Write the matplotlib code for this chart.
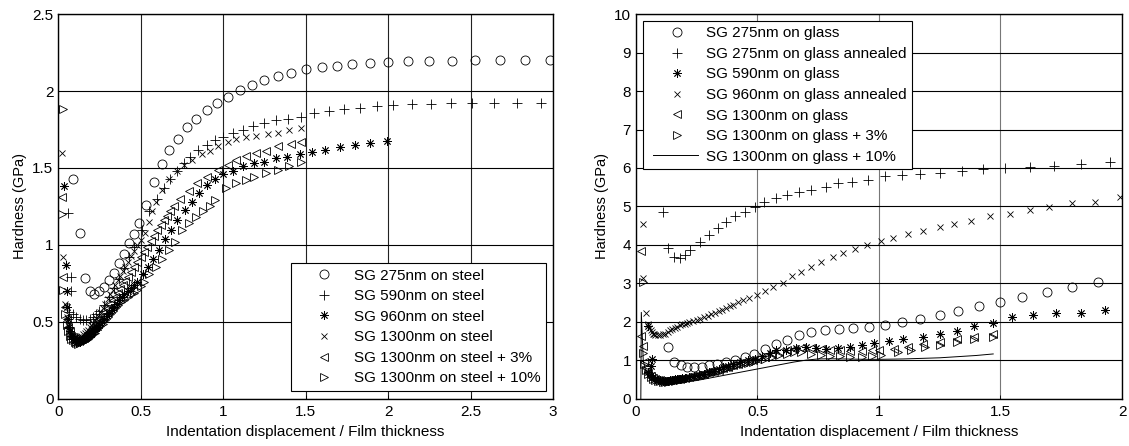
import numpy as np
import matplotlib
matplotlib.use("Agg")
import matplotlib.pyplot as plt
from matplotlib.legend_handler import HandlerLine2D
from matplotlib.lines import Line2D

plt.rcParams['font.family'] = ['Liberation Sans', 'DejaVu Sans']

# ---------------- left panel data (x = displacement / thickness, y = hardness GPa)
steel_275 = np.array([
    [0.087, 1.43], [0.13, 1.076], [0.164, 0.785], [0.19, 0.70], [0.218, 0.68], [0.25, 0.70],
    [0.28, 0.73], [0.31, 0.77], [0.34, 0.82], [0.37, 0.88], [0.40, 0.94], [0.43, 1.01],
    [0.46, 1.07], [0.49, 1.14], [0.535, 1.26], [0.578, 1.41], [0.627, 1.526], [0.671, 1.617],
    [0.728, 1.69], [0.78, 1.764], [0.837, 1.82], [0.90, 1.876], [0.964, 1.919], [1.03, 1.958],
    [1.10, 2.006], [1.174, 2.04], [1.25, 2.07], [1.33, 2.097], [1.414, 2.12], [1.505, 2.14],
    [1.60, 2.153], [1.69, 2.163], [1.78, 2.175], [1.89, 2.183], [2.0, 2.19], [2.12, 2.193],
    [2.25, 2.196], [2.39, 2.198], [2.53, 2.2], [2.68, 2.2], [2.83, 2.2], [2.98, 2.2]])

steel_590 = np.array([
    [0.057, 1.21], [0.077, 0.79], [0.08, 0.70], [0.067, 0.567], [0.09, 0.55], [0.11, 0.53],
    [0.13, 0.52], [0.15, 0.51], [0.17, 0.51], [0.19, 0.52], [0.21, 0.53], [0.23, 0.55],
    [0.25, 0.57], [0.28, 0.61], [0.31, 0.66], [0.34, 0.72], [0.37, 0.78], [0.40, 0.85],
    [0.43, 0.92], [0.46, 0.99], [0.505, 1.10], [0.55, 1.22], [0.596, 1.30], [0.64, 1.37],
    [0.68, 1.43], [0.72, 1.48], [0.76, 1.53], [0.80, 1.57], [0.85, 1.617], [0.90, 1.65],
    [0.95, 1.68], [1.0, 1.70], [1.06, 1.73], [1.12, 1.75], [1.18, 1.77], [1.25, 1.79],
    [1.32, 1.81], [1.396, 1.82], [1.475, 1.83], [1.55, 1.86], [1.64, 1.87], [1.73, 1.88],
    [1.83, 1.887], [1.93, 1.90], [2.03, 1.91], [2.145, 1.915], [2.26, 1.915], [2.38, 1.92],
    [2.51, 1.92], [2.64, 1.92], [2.78, 1.92], [2.93, 1.92]])

steel_960 = np.array([
    [0.036, 1.38], [0.047, 0.87], [0.05, 0.70], [0.055, 0.60], [0.06, 0.52], [0.065, 0.47],
    [0.07, 0.44], [0.08, 0.41], [0.09, 0.39], [0.10, 0.38], [0.11, 0.37], [0.12, 0.37],
    [0.13, 0.37], [0.14, 0.38], [0.15, 0.38], [0.16, 0.39], [0.17, 0.40], [0.18, 0.41],
    [0.19, 0.42], [0.20, 0.43], [0.21, 0.44], [0.22, 0.45], [0.23, 0.46], [0.24, 0.47],
    [0.25, 0.48], [0.265, 0.50], [0.28, 0.52], [0.295, 0.54], [0.31, 0.56], [0.325, 0.58],
    [0.34, 0.60], [0.355, 0.62], [0.37, 0.64], [0.385, 0.66], [0.40, 0.68], [0.42, 0.70],
    [0.44, 0.72], [0.46, 0.74], [0.48, 0.76], [0.515, 0.81], [0.545, 0.86], [0.576, 0.91],
    [0.61, 0.97], [0.647, 1.037], [0.683, 1.097], [0.72, 1.16], [0.77, 1.227], [0.81, 1.28],
    [0.853, 1.34], [0.905, 1.39], [0.95, 1.43], [1.0, 1.46], [1.06, 1.48], [1.12, 1.51],
    [1.19, 1.53], [1.25, 1.54], [1.32, 1.565], [1.39, 1.57], [1.465, 1.59], [1.54, 1.606],
    [1.62, 1.617], [1.71, 1.634], [1.80, 1.65], [1.89, 1.66], [1.995, 1.675]])

steel_1300 = np.array([
    [0.02, 1.6], [0.03, 0.92], [0.04, 0.62], [0.05, 0.53], [0.06, 0.48], [0.07, 0.45],
    [0.08, 0.42], [0.09, 0.41], [0.10, 0.40], [0.11, 0.40], [0.12, 0.40], [0.13, 0.405],
    [0.14, 0.41], [0.15, 0.42], [0.16, 0.43], [0.17, 0.44], [0.18, 0.45], [0.19, 0.465],
    [0.20, 0.48], [0.21, 0.495], [0.22, 0.51], [0.23, 0.525], [0.24, 0.54], [0.255, 0.565],
    [0.27, 0.59], [0.285, 0.62], [0.30, 0.65], [0.315, 0.68], [0.33, 0.71], [0.345, 0.74],
    [0.36, 0.77], [0.375, 0.80], [0.39, 0.83], [0.405, 0.86], [0.42, 0.89], [0.44, 0.93],
    [0.46, 0.96], [0.48, 1.0], [0.50, 1.03], [0.525, 1.08], [0.55, 1.15], [0.57, 1.22],
    [0.59, 1.28], [0.63, 1.36], [0.67, 1.43], [0.72, 1.48], [0.76, 1.52], [0.81, 1.55],
    [0.87, 1.59], [0.92, 1.61], [0.97, 1.64], [1.03, 1.67], [1.08, 1.69], [1.14, 1.70],
    [1.2, 1.71], [1.27, 1.72], [1.33, 1.73], [1.40, 1.75], [1.47, 1.757]])

steel_1300_3 = np.array([
    [0.022, 1.31], [0.03, 0.79], [0.04, 0.60], [0.05, 0.52], [0.06, 0.47], [0.07, 0.44],
    [0.08, 0.41], [0.09, 0.40], [0.10, 0.39], [0.11, 0.385], [0.12, 0.38], [0.13, 0.385],
    [0.14, 0.39], [0.15, 0.395], [0.16, 0.40], [0.17, 0.41], [0.18, 0.42], [0.19, 0.43],
    [0.20, 0.44], [0.21, 0.455], [0.22, 0.47], [0.23, 0.485], [0.24, 0.50], [0.255, 0.52],
    [0.27, 0.54], [0.285, 0.565], [0.30, 0.59], [0.315, 0.615], [0.33, 0.64], [0.345, 0.665],
    [0.36, 0.69], [0.375, 0.715], [0.39, 0.74], [0.405, 0.765], [0.42, 0.79], [0.44, 0.825],
    [0.46, 0.86], [0.48, 0.89], [0.50, 0.92], [0.52, 0.955], [0.54, 0.99], [0.56, 1.025],
    [0.58, 1.06], [0.60, 1.095], [0.62, 1.13], [0.64, 1.16], [0.66, 1.19], [0.68, 1.22],
    [0.70, 1.25], [0.74, 1.30], [0.79, 1.35], [0.84, 1.40], [0.90, 1.44], [0.97, 1.49],
    [1.03, 1.52], [1.08, 1.55], [1.14, 1.58], [1.2, 1.60], [1.26, 1.61], [1.33, 1.64],
    [1.41, 1.655], [1.475, 1.67]])

steel_1300_10 = np.array([
    [0.027, 1.88], [0.02, 1.20], [0.03, 0.71], [0.04, 0.55], [0.05, 0.48], [0.06, 0.44],
    [0.07, 0.41], [0.08, 0.39], [0.09, 0.38], [0.10, 0.37], [0.11, 0.365], [0.12, 0.36],
    [0.13, 0.365], [0.14, 0.37], [0.15, 0.375], [0.16, 0.38], [0.17, 0.385], [0.18, 0.39],
    [0.19, 0.40], [0.20, 0.41], [0.21, 0.42], [0.22, 0.43], [0.23, 0.445], [0.24, 0.46],
    [0.255, 0.475], [0.27, 0.49], [0.285, 0.51], [0.30, 0.53], [0.315, 0.55], [0.33, 0.57],
    [0.345, 0.59], [0.36, 0.61], [0.38, 0.63], [0.40, 0.645], [0.42, 0.66], [0.44, 0.68],
    [0.46, 0.69], [0.48, 0.71], [0.50, 0.735], [0.52, 0.76], [0.55, 0.81], [0.59, 0.86],
    [0.63, 0.91], [0.67, 0.97], [0.707, 1.02], [0.75, 1.10], [0.79, 1.14], [0.835, 1.18],
    [0.88, 1.22], [0.92, 1.25], [0.95, 1.29], [1.02, 1.37], [1.08, 1.40], [1.14, 1.42],
    [1.19, 1.44], [1.26, 1.47], [1.33, 1.49], [1.40, 1.51], [1.475, 1.54]])

left_labels = ["SG 275nm on steel", "SG 590nm on steel", "SG 960nm on steel",
               "SG 1300nm on steel", "SG 1300nm on steel + 3%", "SG 1300nm on steel + 10%"]
left_xticks = [0, 0.5, 1, 1.5, 2, 2.5, 3]
left_yticks = [0, 0.5, 1, 1.5, 2, 2.5]

# ---------------- right panel data
glass_275 = np.array([
    [0.133, 1.36], [0.156, 0.97], [0.184, 0.87], [0.21, 0.82], [0.24, 0.82], [0.27, 0.84],
    [0.30, 0.87], [0.335, 0.90], [0.37, 0.95], [0.406, 1.01], [0.447, 1.1], [0.484, 1.18],
    [0.53, 1.30], [0.576, 1.42], [0.62, 1.53], [0.67, 1.66], [0.72, 1.75], [0.777, 1.79],
    [0.836, 1.81], [0.894, 1.84], [0.96, 1.88], [1.025, 1.93], [1.093, 2.0], [1.169, 2.08],
    [1.25, 2.18], [1.326, 2.29], [1.413, 2.42], [1.50, 2.53], [1.59, 2.66], [1.69, 2.79],
    [1.795, 2.92], [1.90, 3.05]])

glass_275_ann = np.array([
    [0.11, 4.87], [0.132, 3.91], [0.155, 3.70], [0.18, 3.67], [0.20, 3.74], [0.222, 3.87],
    [0.263, 4.09], [0.30, 4.26], [0.337, 4.43], [0.371, 4.61], [0.409, 4.75], [0.447, 4.87],
    [0.49, 4.99], [0.527, 5.12], [0.576, 5.21], [0.62, 5.30], [0.67, 5.38], [0.72, 5.43],
    [0.78, 5.51], [0.83, 5.60], [0.89, 5.64], [0.955, 5.69], [1.025, 5.79], [1.095, 5.82],
    [1.17, 5.84], [1.25, 5.87], [1.34, 5.92], [1.43, 5.97], [1.52, 6.0], [1.62, 6.03],
    [1.72, 6.06], [1.83, 6.11], [1.95, 6.16]])

glass_590 = np.array([
    [0.05, 1.9], [0.068, 1.05], [0.06, 0.85], [0.05, 0.70], [0.06, 0.62], [0.07, 0.56],
    [0.08, 0.52], [0.09, 0.50], [0.10, 0.49], [0.11, 0.48], [0.12, 0.48], [0.13, 0.48],
    [0.14, 0.49], [0.15, 0.50], [0.16, 0.51], [0.17, 0.52], [0.18, 0.53], [0.19, 0.54],
    [0.20, 0.55], [0.22, 0.57], [0.24, 0.60], [0.26, 0.63], [0.28, 0.66], [0.30, 0.70],
    [0.32, 0.74], [0.34, 0.78], [0.36, 0.82], [0.38, 0.86], [0.40, 0.90], [0.43, 0.95],
    [0.46, 1.0], [0.49, 1.05], [0.52, 1.12], [0.55, 1.20], [0.576, 1.27], [0.617, 1.28],
    [0.66, 1.33], [0.70, 1.36], [0.74, 1.33], [0.78, 1.30], [0.83, 1.33], [0.88, 1.36],
    [0.93, 1.41], [0.98, 1.45], [1.04, 1.50], [1.10, 1.56], [1.18, 1.60], [1.25, 1.70],
    [1.32, 1.76], [1.39, 1.89], [1.47, 1.97], [1.548, 2.12], [1.635, 2.18], [1.73, 2.24],
    [1.83, 2.24], [1.93, 2.31]])

glass_960_ann = np.array([
    [0.031, 4.55], [0.03, 3.15], [0.04, 2.24], [0.05, 1.95], [0.055, 1.85], [0.06, 1.78],
    [0.065, 1.73], [0.07, 1.70], [0.075, 1.68], [0.08, 1.66], [0.09, 1.65], [0.10, 1.66],
    [0.11, 1.68], [0.12, 1.70], [0.13, 1.74], [0.14, 1.78], [0.15, 1.82], [0.16, 1.85],
    [0.17, 1.88], [0.18, 1.91], [0.19, 1.94], [0.20, 1.96], [0.21, 1.98], [0.22, 2.0],
    [0.235, 2.02], [0.25, 2.05], [0.265, 2.08], [0.28, 2.12], [0.295, 2.16], [0.31, 2.20],
    [0.325, 2.24], [0.34, 2.28], [0.355, 2.31], [0.37, 2.36], [0.385, 2.41], [0.40, 2.45],
    [0.42, 2.51], [0.44, 2.57], [0.465, 2.62], [0.496, 2.70], [0.53, 2.80], [0.565, 2.90],
    [0.605, 3.0], [0.643, 3.19], [0.68, 3.31], [0.72, 3.42], [0.76, 3.57], [0.81, 3.70],
    [0.85, 3.80], [0.90, 3.90], [0.95, 4.0], [1.007, 4.11], [1.056, 4.17], [1.12, 4.29],
    [1.18, 4.37], [1.25, 4.46], [1.31, 4.55], [1.38, 4.63], [1.456, 4.75], [1.538, 4.81],
    [1.62, 4.91], [1.70, 4.99], [1.795, 5.10], [1.89, 5.12], [1.99, 5.25]])

glass_1300 = np.array([
    [0.022, 3.84], [0.022, 1.64], [0.03, 1.38], [0.035, 0.95], [0.04, 0.80], [0.05, 0.68],
    [0.06, 0.60], [0.07, 0.55], [0.08, 0.52], [0.09, 0.50], [0.10, 0.49], [0.11, 0.48],
    [0.12, 0.48], [0.13, 0.49], [0.14, 0.49], [0.15, 0.50], [0.16, 0.51], [0.17, 0.52],
    [0.18, 0.53], [0.19, 0.54], [0.20, 0.55], [0.22, 0.57], [0.24, 0.60], [0.26, 0.63],
    [0.28, 0.66], [0.30, 0.69], [0.32, 0.72], [0.34, 0.76], [0.36, 0.80], [0.38, 0.84],
    [0.40, 0.88], [0.42, 0.92], [0.44, 0.95], [0.46, 0.99], [0.48, 1.02], [0.50, 1.05],
    [0.53, 1.10], [0.56, 1.16], [0.59, 1.21], [0.62, 1.26], [0.65, 1.30], [0.68, 1.32],
    [0.72, 1.33], [0.76, 1.30], [0.80, 1.27], [0.84, 1.26], [0.88, 1.25], [0.93, 1.25],
    [0.97, 1.26], [1.0, 1.27], [1.06, 1.30], [1.12, 1.36], [1.18, 1.43], [1.25, 1.49],
    [1.32, 1.56], [1.39, 1.62], [1.47, 1.70]])

glass_1300_3 = np.array([
    [0.027, 3.05], [0.03, 1.2], [0.035, 0.90], [0.04, 0.75], [0.05, 0.64], [0.06, 0.57],
    [0.07, 0.52], [0.08, 0.49], [0.09, 0.47], [0.10, 0.46], [0.11, 0.45], [0.12, 0.45],
    [0.13, 0.45], [0.14, 0.46], [0.15, 0.47], [0.16, 0.48], [0.17, 0.49], [0.18, 0.50],
    [0.19, 0.51], [0.20, 0.52], [0.22, 0.54], [0.24, 0.57], [0.26, 0.60], [0.28, 0.63],
    [0.30, 0.66], [0.32, 0.69], [0.34, 0.72], [0.36, 0.76], [0.38, 0.80], [0.40, 0.84],
    [0.42, 0.88], [0.44, 0.91], [0.46, 0.94], [0.48, 0.97], [0.50, 1.0], [0.53, 1.05],
    [0.56, 1.10], [0.59, 1.14], [0.62, 1.18], [0.65, 1.21], [0.68, 1.21], [0.72, 1.18],
    [0.76, 1.15], [0.80, 1.12], [0.84, 1.11], [0.88, 1.10], [0.93, 1.10], [0.97, 1.11],
    [1.01, 1.14], [1.08, 1.23], [1.13, 1.28], [1.19, 1.35], [1.25, 1.40], [1.32, 1.47],
    [1.39, 1.55], [1.47, 1.62]])

glass_1300_10 = np.array([
    [0.02, 0.0], [0.022, 2.25], [0.03, 1.0], [0.04, 0.72], [0.05, 0.58], [0.06, 0.50],
    [0.08, 0.44], [0.10, 0.41], [0.13, 0.40], [0.16, 0.41], [0.20, 0.44], [0.25, 0.48],
    [0.30, 0.54], [0.35, 0.60], [0.40, 0.66], [0.45, 0.72], [0.50, 0.78], [0.55, 0.84],
    [0.60, 0.90], [0.65, 0.96], [0.70, 1.01], [0.75, 1.04], [0.80, 1.045], [0.85, 1.04],
    [0.90, 1.035], [0.95, 1.03], [1.0, 1.03], [1.05, 1.035], [1.10, 1.04], [1.15, 1.05],
    [1.20, 1.06], [1.25, 1.07], [1.30, 1.09], [1.35, 1.11], [1.40, 1.13], [1.47, 1.17]])

right_labels = ["SG 275nm on glass", "SG 275nm on glass annealed", "SG 590nm on glass",
                "SG 960nm on glass annealed", "SG 1300nm on glass", "SG 1300nm on glass + 3%",
                "SG 1300nm on glass + 10%"]
right_xticks = [0, 0.5, 1, 1.5, 2]
right_yticks = list(range(0, 11))

# ---------------- drawing
TICK_FS = 11
XLAB_FS = 11
YLAB_FS = 10.5
LEG_FS = 11
asterisk = (8, 2, 0)
mk_style = dict(ls='none', color='black', mfc='none', mew=0.6)


class TrimmedLineHandler(HandlerLine2D):
    """Legend line handle slightly shorter than the handle box."""
    def create_artists(self, legend, orig_handle, xdescent, ydescent, width, height,
                       fontsize, trans):
        arts = super().create_artists(legend, orig_handle, xdescent, ydescent, width,
                                      height, fontsize, trans)
        for a in arts:
            if isinstance(a, Line2D) and a.get_linestyle() not in ('None', 'none', ''):
                xd = np.array(a.get_xdata(), dtype=float)
                xd[0] += 3.5
                xd[-1] -= 4.5
                a.set_xdata(xd)
        return arts


fig = plt.figure(figsize=(11.29, 4.46), dpi=100)
axL = fig.add_axes([0.0516, 0.1054, 0.4382, 0.8632])
axR = fig.add_axes([0.5633, 0.1054, 0.4305, 0.8632])


def style_axes(ax, xticks, yticks, xlim, ylim, vgrid_color):
    ax.set_xlim(*xlim)
    ax.set_ylim(*ylim)
    ax.set_xticks(xticks)
    ax.set_yticks(yticks)
    ax.set_xticklabels([f"{t:g}" for t in xticks])
    ax.set_yticklabels([f"{t:g}" for t in yticks])
    ax.tick_params(direction='in', length=3, width=0.6, labelsize=TICK_FS, colors='black')
    ax.tick_params(axis='x', pad=4.5)
    ax.tick_params(axis='y', pad=3.5)
    for s in ax.spines.values():
        s.set_linewidth(1.0)
        s.set_color('black')
    ax.set_axisbelow(True)
    ax.yaxis.grid(True, color='black', lw=0.8)
    ax.xaxis.grid(True, color=vgrid_color, lw=0.8)
    ax.set_xlabel("Indentation displacement / Film thickness", fontsize=XLAB_FS, labelpad=4.5)
    ax.set_ylabel("Hardness (GPa)", fontsize=YLAB_FS, labelpad=4)


leg_kw = dict(loc='upper left', borderaxespad=0, fontsize=LEG_FS, frameon=True,
              fancybox=False, edgecolor='black', framealpha=1, borderpad=0.35,
              handlelength=3.66, handletextpad=0.12, labelspacing=0.43, numpoints=1)

left_series = [(steel_275, 'o', 6.5), (steel_590, '+', 7), (steel_960, asterisk, 6),
               (steel_1300, 'x', 4.5), (steel_1300_3, '<', 6), (steel_1300_10, '>', 6)]
for (arr, m, ms), lab in zip(left_series, left_labels):
    axL.plot(arr[:, 0], arr[:, 1], marker=m, ms=ms, label=lab, **mk_style)
style_axes(axL, left_xticks, left_yticks, (0, 3), (0, 2.5), '#222222')
legL = axL.legend(bbox_to_anchor=(0.4695, 0.3525), **leg_kw)
legL.get_frame().set_linewidth(0.8)

right_series = [(glass_275, 'o', 6.5), (glass_275_ann, '+', 7), (glass_590, asterisk, 6),
                (glass_960_ann, 'x', 4.5), (glass_1300, '<', 6), (glass_1300_3, '>', 6)]
for (arr, m, ms), lab in zip(right_series, right_labels[:6]):
    axR.plot(arr[:, 0], arr[:, 1], marker=m, ms=ms, label=lab, **mk_style)
line10, = axR.plot(glass_1300_10[:, 0], glass_1300_10[:, 1], color='black', lw=0.7,
                   label=right_labels[6])
style_axes(axR, right_xticks, right_yticks, (0, 2), (0, 10), '#777777')
legR = axR.legend(bbox_to_anchor=(0.015, 0.982),
                  handler_map={line10: TrimmedLineHandler()}, **leg_kw)
legR.get_frame().set_linewidth(0.8)

fig.savefig("out.png", dpi=100)
